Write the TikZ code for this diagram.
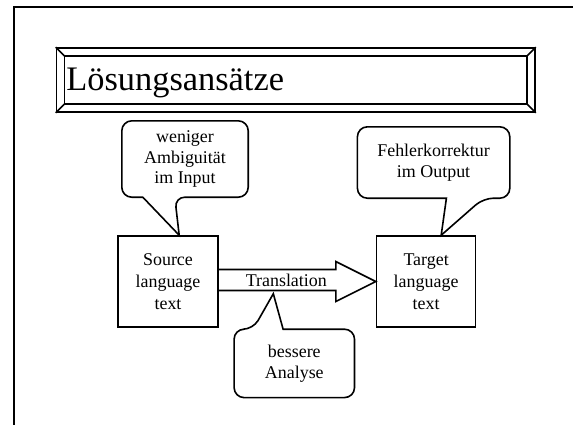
\documentclass[tikz,border=0pt]{standalone}
\usepackage{fontspec}
\setmainfont{Liberation Serif}
\usetikzlibrary{positioning,calc}

\tikzset{
  box/.style={draw, line width=1.6bp, minimum width=100bp, minimum height=91bp, inner sep=0pt, align=center, font=\fontsize{18}{22}\selectfont},
  note/.style={inner sep=0pt, align=center, font=\fontsize{18}{21}\selectfont},
  bubble/.style={draw, line width=1.6bp, rounded corners=10bp},
}

\begin{document}
\begin{tikzpicture}[x=1bp,y=-1bp]
    \useasboundingbox (0,0) rectangle (573,424);
    \draw[line width=2.4bp] (14,425) -- (14,7) -- (574,7);

    % title frame
    \node[draw, line width=1.6bp, minimum width=478.5bp, minimum height=64bp, inner sep=0pt] (frame) at (295.75,80) {};
    \draw[line width=1.6bp] ($(frame.north west)+(9,9)$) rectangle ($(frame.south east)+(-9,-9)$);
    \draw[line width=1.6bp] (frame.north west) -- +(9,9) (frame.north east) -- +(-9,9)
        (frame.south west) -- +(9,-9) (frame.south east) -- +(-9,-9);
    \node[anchor=base west, inner sep=0pt, font=\fontsize{34.5}{40}\selectfont] (title) at ($(frame.west)+(10.5,10)$) {Lösungsansätze};

    % boxes
    \node[box] (src) at (168,281.5) {Source\\language\\text};
    \node[box, right=157bp of src, minimum width=99bp] (tgt) {Target\\language\\text};

    % translation arrow
    \draw[line width=1.6bp] ($(src.east)+(0,-12)$) -- ($(tgt.west)+(-40,-12)$) -- ($(tgt.west)+(-40,-20)$)
        -- (tgt.west) -- ($(tgt.west)+(-40,20)$) -- ($(tgt.west)+(-40,9)$) -- ($(src.east)+(0,9)$);
    \node[inner sep=0pt, minimum height=21bp, font=\fontsize{18}{21}\selectfont] (trans) at ($(src.east)!0.43!(tgt.west)+(0,-1.5)$) {Translation};

    % callouts
    \node[note, minimum width=126bp, minimum height=76bp, above=38bp of src, xshift=17bp] (amb) {weniger\\Ambiguität\\im Input};
    \draw[bubble] ($(amb.south west)+(21,0)$) -- (amb.south west) -- (amb.north west) -- (amb.north east)
        -- (amb.south east) -- ($(amb.south west)+(53,0)$) [sharp corners] -- ($(src.north west)!0.61!(src.north east)$) -- cycle;

    \node[note, minimum width=152bp, minimum height=71bp, above=37bp of tgt, xshift=7.5bp] (fix) {Fehlerkorrektur\\im Output};
    \draw[bubble] ($(fix.south west)+(89,0)$) -- (fix.south west) -- (fix.north west) -- (fix.north east)
        -- (fix.south east) -- ($(fix.south west)+(126,0)$) [sharp corners] -- ($(tgt.north west)!0.65!(tgt.north east)$) -- cycle;

    \node[note, minimum width=120bp, minimum height=68bp, below=38.5bp of trans, xshift=8bp] (ana) {bessere\\Analyse};
    \draw[bubble] ($(ana.north west)+(49,0)$) -- (ana.north east) -- (ana.south east) -- (ana.south west)
        -- (ana.north west) -- ($(ana.north west)+(19,0)$) [sharp corners] -- ($(trans.south)+(-13,3)$) -- cycle;
\end{tikzpicture}
\end{document}
